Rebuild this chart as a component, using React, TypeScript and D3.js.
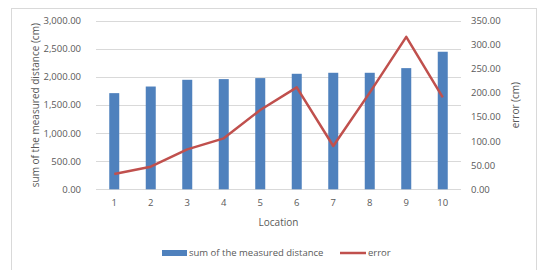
import React from "react";
import * as d3 from "d3";

const categories = ["1", "2", "3", "4", "5", "6", "7", "8", "9", "10"];
const distance = [1714, 1832, 1952, 1964, 1982, 2059, 2077, 2077, 2160, 2452];
const errorVals = [32, 47, 83, 106, 165, 212, 90, 201, 317, 191];
const leftTicks = [0, 500, 1000, 1500, 2000, 2500, 3000];
const rightTicks = [0, 50, 100, 150, 200, 250, 300, 350];

const W = 538, H = 270;
const plot = { left: 96, right: 461, top: 21, bottom: 189.3 };
const FONT = "'Open Sans', sans-serif";
const TXT = "#595959";

export default function App() {
  const xc = d3.scalePoint<string>().domain(categories).range([plot.left, plot.right]).padding(0.5);
  const yL = d3.scaleLinear().domain([0, 3000]).range([plot.bottom, plot.top]);
  const yR = d3.scaleLinear().domain([0, 350]).range([plot.bottom, plot.top]);
  const fmt = d3.format(",.2f");
  const line = d3.line<number>().x((_, i) => xc(categories[i])!).y((d) => yR(d));
  const bw = 10;
  return (
    <svg width={W} height={H} style={{ position: "absolute", left: 0, top: 0 }}>
      <rect x={0} y={0} width={W} height={H} fill="#fff" />
      <rect x={11.5} y={8.5} width={525} height={270} fill="#fff" stroke="#d9d9d9" strokeWidth={1} />
      {leftTicks.map((t) => (
        <line key={t} x1={plot.left} x2={plot.right} y1={Math.round(yL(t)) + 0.5} y2={Math.round(yL(t)) + 0.5} stroke="#d9d9d9" strokeWidth={1} />
      ))}
      {leftTicks.map((t) => (
        <text key={t} x={81} y={yL(t)} dy="0.35em" textAnchor="end" fontSize={9.5} fill={TXT} fontFamily={FONT}>{fmt(t)}</text>
      ))}
      {rightTicks.map((t) => (
        <text key={t} x={471} y={yR(t)} dy="0.35em" textAnchor="start" fontSize={9.5} fill={TXT} fontFamily={FONT}>{fmt(t)}</text>
      ))}
      {distance.map((d, i) => (
        <rect key={i} x={xc(categories[i])! - bw / 2} y={yL(d)} width={bw} height={plot.bottom - yL(d)} fill="#4f81bd" />
      ))}
      <path d={line(errorVals)!} fill="none" stroke="#c0504d" strokeWidth={2.5} strokeLinejoin="round" />
      {categories.map((c) => (
        <text key={c} x={xc(c)} y={203} dy="0.35em" textAnchor="middle" fontSize={9.5} fill={TXT} fontFamily={FONT}>{c}</text>
      ))}
      <text x={(plot.left + plot.right) / 2} y={222.5} dy="0.35em" textAnchor="middle" fontSize={10} fill={TXT} fontFamily={FONT}>Location</text>
      <text transform={`translate(35,${(plot.top + plot.bottom) / 2}) rotate(-90)`} dy="0.35em" textAnchor="middle" fontSize={10} fill={TXT} fontFamily={FONT}>sum of the measured distance (cm)</text>
      <text transform={`translate(515,${(plot.top + plot.bottom) / 2}) rotate(-90)`} dy="0.35em" textAnchor="middle" fontSize={10} fill={TXT} fontFamily={FONT}>error (cm)</text>
      <rect x={162} y={250} width={25} height={6} fill="#4f81bd" />
      <text x={189} y={253} dy="0.35em" fontSize={9.5} fill={TXT} fontFamily={FONT}>sum of the measured distance</text>
      <line x1={340} x2={366} y1={253} y2={253} stroke="#c0504d" strokeWidth={2.5} />
      <text x={368} y={253} dy="0.35em" fontSize={9.5} fill={TXT} fontFamily={FONT}>error</text>
    </svg>
  );
}
